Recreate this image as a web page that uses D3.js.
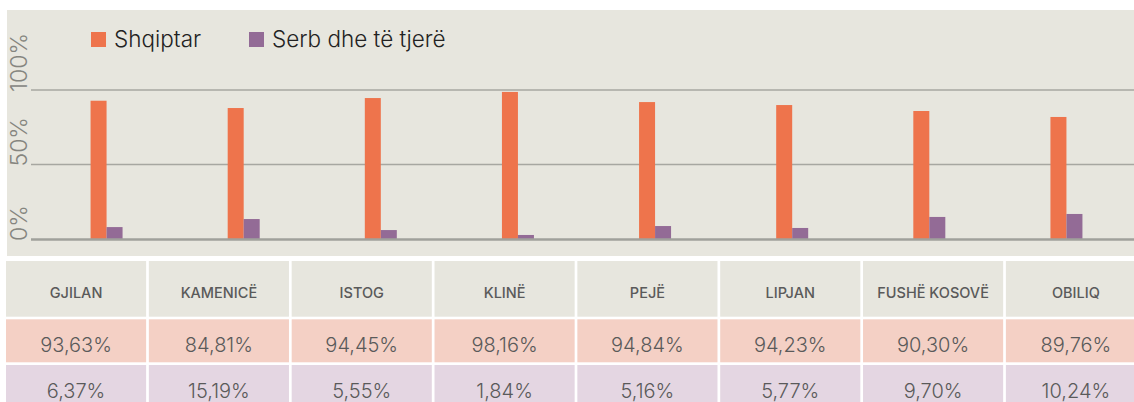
<!DOCTYPE html>
<html>
<head>
<meta charset="utf-8">
<script src="https://cdn.jsdelivr.net/npm/d3@7"></script>
<style>
  html, body { margin: 0; padding: 0; background: #fff; }
  svg { display: block; }
</style>
</head>
<body>
<div id="chart"></div>
<script>
// categories (municipalities)
const cities = ['GJILAN', 'KAMENICË', 'ISTOG', 'KLINË', 'PEJË', 'LIPJAN', 'FUSHË KOSOVË', 'OBILIQ'];
// bar heights as drawn in the chart (%)
const barShqiptar = [92.8, 87.9, 94.6, 98.7, 91.9, 89.9, 85.9, 81.9];
const barSerb = [8.0, 13.4, 6.0, 2.7, 8.7, 7.4, 14.8, 16.8];
// values printed in the table (%)
const tableShqiptar = [93.63, 84.81, 94.45, 98.16, 94.84, 94.23, 90.30, 89.76];
const tableSerb = [6.37, 15.19, 5.55, 1.84, 5.16, 5.77, 9.70, 10.24];
const yTicks = [0, 50, 100];
const seriesNames = ['Shqiptar', 'Serb dhe të tjerë'];

const FONT = 'Inter, "Open Sans", sans-serif';
const ORANGE = '#ee744c', PURPLE = '#936b96';
const PANEL = '#e7e6de';
const W = 1134, H = 402;

const svg = d3.select('#chart').append('svg').attr('width', W).attr('height', H);

// chart panel
svg.append('rect').attr('x', 7).attr('y', 10).attr('width', 1140).attr('height', 246).attr('fill', PANEL);

const y = d3.scaleLinear().domain([0, 100]).range([239, 90]);
const x0 = d3.scaleBand().domain(cities).range([38, 1135]);
const x1 = d3.scaleBand().domain(['a', 'b']).range([-16, 16]);

// gridlines
svg.append('g').selectAll('line').data(yTicks.filter((d) => d > 0)).join('line')
  .attr('x1', 31).attr('x2', W).attr('y1', y).attr('y2', y)
  .attr('stroke', '#a7a7a1').attr('stroke-width', 1.5);

// y labels, rotated
svg.append('g').selectAll('text').data(yTicks).join('text')
  .attr('transform', (d) => `translate(27,${y(d) + 2}) rotate(-90)`)
  .attr('font-family', FONT).attr('font-weight', 300).attr('font-size', 23)
  .attr('fill', '#85857f').text((d) => d + '%');

// bars
const flat = [];
cities.forEach((c, i) => {
  flat.push({ c, g: 'a', v: barShqiptar[i] });
  flat.push({ c, g: 'b', v: barSerb[i] });
});
svg.append('g').selectAll('rect').data(flat).join('rect')
  .attr('x', (d) => x0(d.c) + x0.bandwidth() / 2 + x1(d.g))
  .attr('width', x1.bandwidth())
  .attr('y', (d) => y(d.v)).attr('height', (d) => y(0) - y(d.v))
  .attr('fill', (d) => d.g === 'a' ? ORANGE : PURPLE);

// baseline
svg.append('line').attr('x1', 31).attr('x2', W).attr('y1', y(0) + 0.5).attr('y2', y(0) + 0.5)
  .attr('stroke', '#a0a19b').attr('stroke-width', 2.5);

// legend
const leg = svg.append('g').attr('transform', 'translate(91,32)');
[[seriesNames[0], ORANGE, 0], [seriesNames[1], PURPLE, 158]].forEach((d) => {
  const g = leg.append('g').attr('transform', `translate(${d[2]},0)`);
  g.append('rect').attr('width', 15).attr('height', 15).attr('fill', d[1]);
  g.append('text').attr('x', 23).attr('y', 15).attr('font-family', FONT)
    .attr('font-weight', 300).attr('font-size', 22.5).attr('fill', '#222').text(d[0]);
});

// table
const tx = d3.scaleBand().domain(cities).range([6, 1146]).paddingInner(0.019);
const fmt = d3.formatLocale({ decimal: ',', thousands: '.', grouping: [3], currency: ['', ''] }).format('.2f');
const rows = [
  { y: 261, h: 55.7, fill: PANEL, text: (i) => cities[i], size: 14.5, weight: 500, base: 297.5 },
  { y: 319.3, h: 43, fill: '#f4d0c5', text: (i) => fmt(tableShqiptar[i]) + '%', size: 20, weight: 300, base: 351.5 },
  { y: 365, h: 43, fill: '#e4d6e2', text: (i) => fmt(tableSerb[i]) + '%', size: 20, weight: 300, base: 398 },
];
rows.forEach((r) => {
  const g = svg.append('g');
  g.selectAll('rect').data(cities).join('rect')
    .attr('x', (d) => tx(d)).attr('y', r.y).attr('width', tx.bandwidth()).attr('height', r.h)
    .attr('fill', r.fill);
  g.selectAll('text').data(cities).join('text')
    .attr('x', (d) => tx(d) + tx.bandwidth() / 2).attr('y', r.base).attr('text-anchor', 'middle')
    .attr('font-family', FONT).attr('font-weight', r.weight).attr('font-size', r.size)
    .attr('fill', '#5a5a5a').text((d, i) => r.text(i));
});
</script>
</body>
</html>
